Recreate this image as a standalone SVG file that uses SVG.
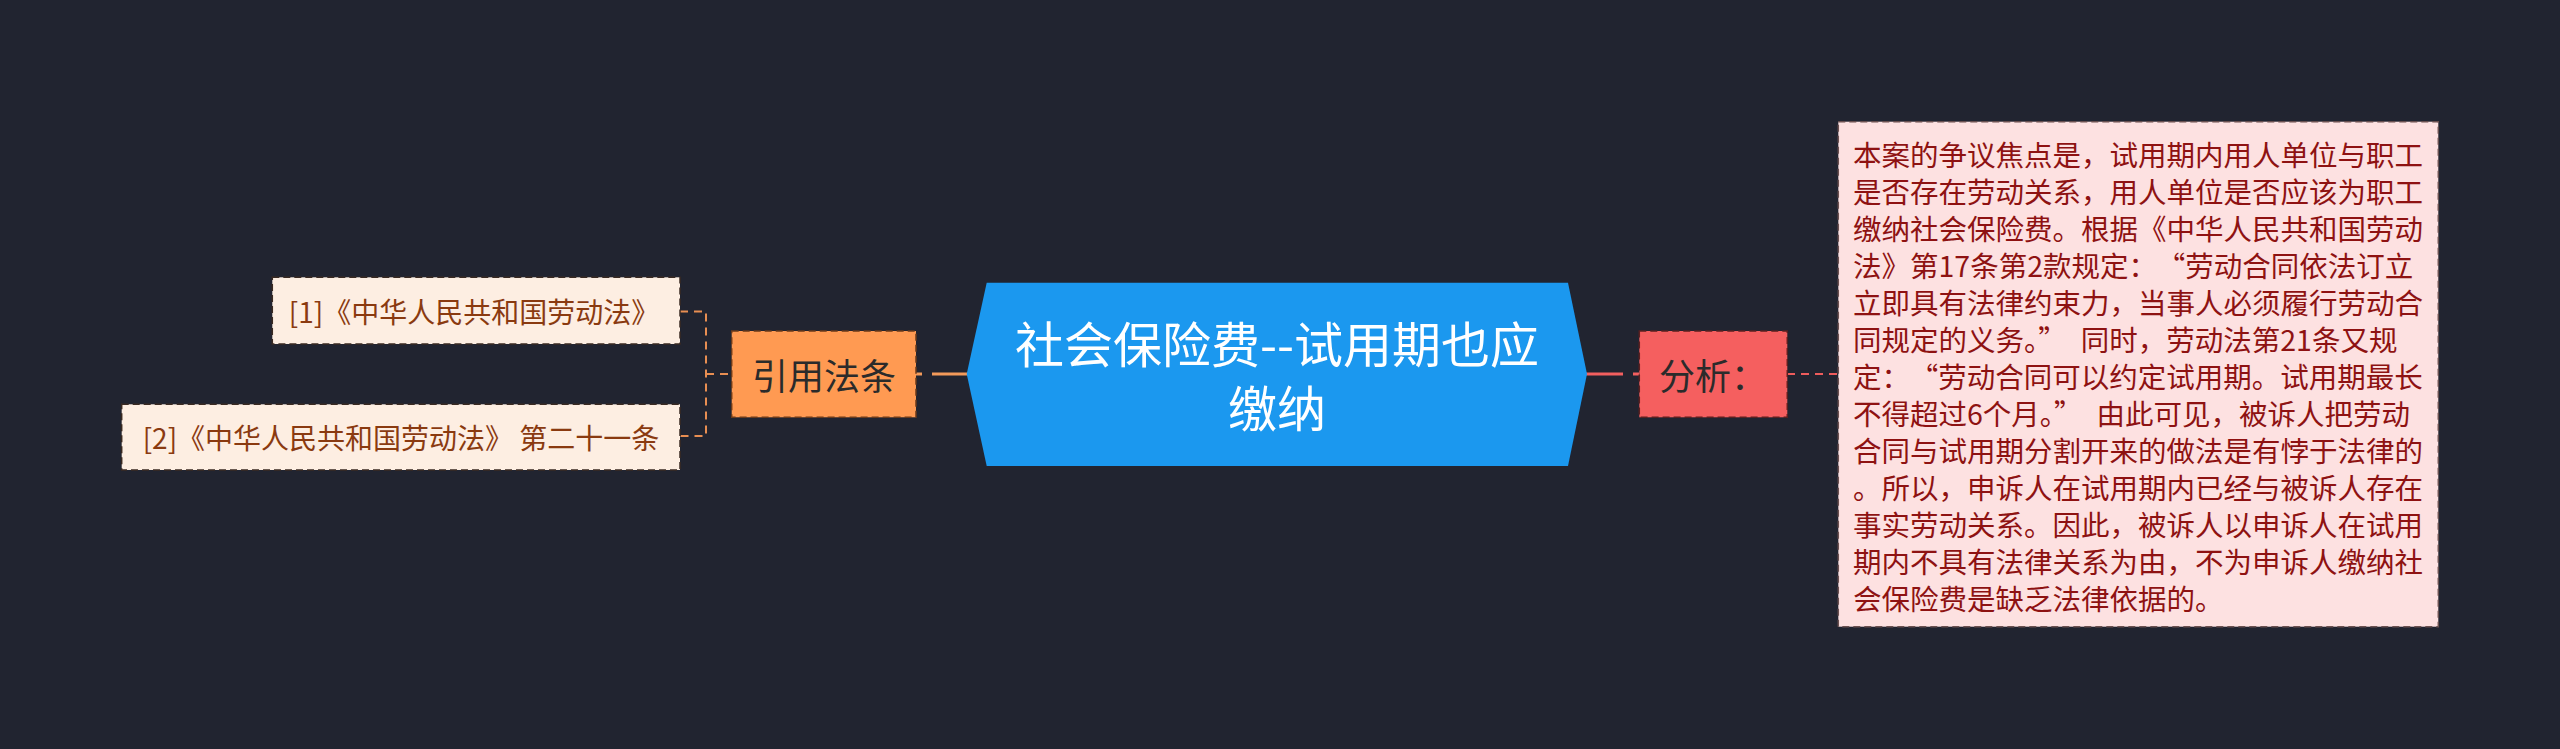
<svg xmlns="http://www.w3.org/2000/svg" width="2560" height="749" viewBox="0 0 2560 749">
<style>
  .bg{fill:#212430}
  .t{font-family:"Noto Sans CJK SC","Noto Sans",sans-serif;dominant-baseline:central}
  .leaf rect{fill:#fdeee2;stroke:#3a2a22;stroke-width:1.5;stroke-dasharray:7 4}
  .leaf text{fill:#8a3a10;font-size:28px;text-anchor:middle}
  .cOr{stroke:#f39a5a;stroke-width:3;fill:none}
  .cOrD{stroke:#e88e52;stroke-width:2;fill:none;stroke-dasharray:8 6}
  .cRd{stroke:#f25f5f;stroke-width:3;fill:none}
  .cRdD{stroke:#ee5c5c;stroke-width:2;fill:none;stroke-dasharray:8 6}
  .para{fill:#8e1212;font-size:28.5px}
</style>
<rect class="bg" x="0" y="0" width="2560" height="749"/>
<g id="connectors">
  <line class="cOr" x1="916" y1="374" x2="922" y2="374"/>
  <line class="cOr" x1="932" y1="374" x2="968" y2="374"/>
  <path class="cOrD" d="M680 311.5 H706 V436 H680"/>
  <line class="cOrD" x1="706" y1="374" x2="731" y2="374" stroke-dasharray="6 4 16"/>
  <line class="cRd" x1="1586" y1="374" x2="1623" y2="374"/>
  <line class="cRd" x1="1633" y1="374" x2="1639" y2="374"/>
  <line class="cRdD" x1="1787" y1="374" x2="1838" y2="374"/>
</g>
<g id="root">
  <polygon points="986.7,282.7 1568,282.7 1587,374 1568,466 986.7,466 966.7,374" fill="#1b98ef"/>
  <text class="t" x="1277" y="341.5" fill="#ffffff" font-size="49" text-anchor="middle">社会保险费--试用期也应</text>
  <text class="t" x="1277" y="405.5" fill="#ffffff" font-size="49" text-anchor="middle">缴纳</text>
</g>
<g id="node-yinyong">
  <rect x="731.7" y="331" width="184.3" height="86.3" fill="#ff9a52" stroke="#6b3a1a" stroke-width="1.5" stroke-dasharray="7 4"/>
  <text class="t" x="824" y="374" fill="#2b2b2b" font-size="36" text-anchor="middle">引用法条</text>
</g>
<g id="leaf-1" class="leaf">
  <rect x="272.3" y="277.3" width="407.7" height="66.7"/>
  <text class="t" x="474" y="310.7">[1]《中华人民共和国劳动法》</text>
</g>
<g id="leaf-2" class="leaf">
  <rect x="121.7" y="404.3" width="558.3" height="65.7"/>
  <text class="t" x="401" y="437">[2]《中华人民共和国劳动法》 第二十一条</text>
</g>
<g id="node-fenxi">
  <rect x="1639.3" y="331" width="148" height="86.3" fill="#f55f5f" stroke="#5a2020" stroke-width="1.5" stroke-dasharray="7 4"/>
  <text class="t" x="1713" y="374" fill="#2b2b2b" font-size="36" text-anchor="middle">分析：</text>
</g>
<g id="node-analysis">
  <rect x="1838.3" y="121.7" width="600" height="505" fill="#fde1e1" stroke="#6a5050" stroke-width="1.5" stroke-dasharray="7 4"/>
  <text class="t para" x="1853" y="153.3">本案的争议焦点是，试用期内用人单位与职工</text>
  <text class="t para" x="1853" y="190.3">是否存在劳动关系，用人单位是否应该为职工</text>
  <text class="t para" x="1853" y="227.3">缴纳社会保险费。根据《中华人民共和国劳动</text>
  <text class="t para" x="1853" y="264.3">法》第17条第2款规定：<tspan dx="14">“</tspan>劳动合同依法订立</text>
  <text class="t para" x="1853" y="301.3">立即具有法律约束力，当事人必须履行劳动合</text>
  <text class="t para" x="1853" y="338.3">同规定的义务。”<tspan dx="14">同时，劳动法第21条又规</tspan></text>
  <text class="t para" x="1853" y="375.3">定：<tspan dx="14">“</tspan>劳动合同可以约定试用期。试用期最长</text>
  <text class="t para" x="1853" y="412.3">不得超过6个月。”<tspan dx="14">由此可见，被诉人把劳动</tspan></text>
  <text class="t para" x="1853" y="449.3">合同与试用期分割开来的做法是有悖于法律的</text>
  <text class="t para" x="1853" y="486.3">。所以，申诉人在试用期内已经与被诉人存在</text>
  <text class="t para" x="1853" y="523.3">事实劳动关系。因此，被诉人以申诉人在试用</text>
  <text class="t para" x="1853" y="560.3">期内不具有法律关系为由，不为申诉人缴纳社</text>
  <text class="t para" x="1853" y="597.3">会保险费是缺乏法律依据的。</text>
</g>
</svg>
